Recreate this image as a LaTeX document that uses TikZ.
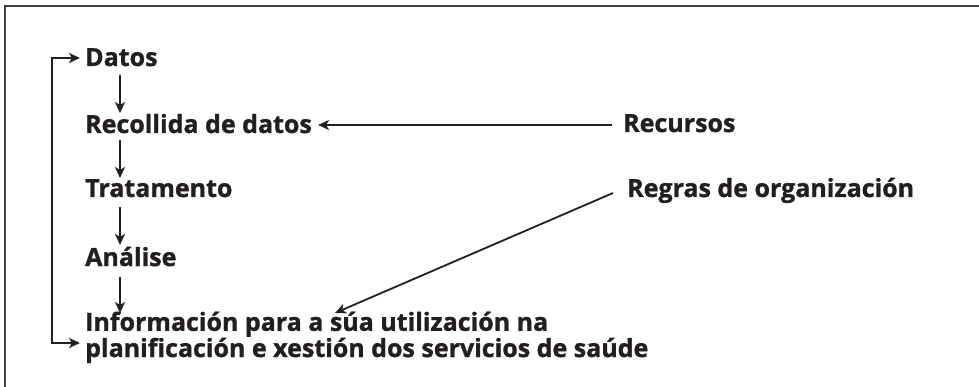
\documentclass[tikz,border=0pt]{standalone}
\usepackage{fontspec}
\setmainfont{Open Sans}[BoldFeatures={FakeBold=1.2}]
\usetikzlibrary{arrows.meta}
\definecolor{ink}{HTML}{231F20}
\begin{document}
\begin{tikzpicture}[x=1pt,y=-1pt,
  lbl/.style={anchor=base west,inner sep=0pt,font=\fontsize{25}{19}\selectfont\bfseries,text=ink},
  arr/.style={draw=ink,line width=1.8pt,-{Stealth[length=11pt,width=10pt,inset=3pt]}},
  frame/.style={draw=ink!85,line width=1.8pt}]
\useasboundingbox (0,0) rectangle (979,387);
\draw[frame] (5,387) -- (5,6) -- (979,6);
\node[lbl] (datos) at (85,66) {Datos};
\node[lbl] (recol) at (85,133) {Recollida de datos};
\node[lbl] (trat) at (85,197) {Tratamento};
\node[lbl] (anal) at (85,266) {Análise};
\node[lbl,align=left] (info) at (85,357) {Información para a súa utilización na\\planificación e xestión dos servicios de saúde};
\node[lbl] (recur) at (623,132) {Recursos};
\node[lbl] (regras) at (627,197) {Regras de organización};
\coordinate (loopx) at (52,0);
\coordinate (datosL) at ([xshift=-5pt,yshift=8pt]datos.base west);
\coordinate (infoL) at ([xshift=-5pt,yshift=14pt]info.base west);
\draw[arr] ([xshift=35pt,yshift=-9pt]datos.base west) -- ([xshift=35pt,yshift=20pt]recol.base west);
\draw[arr] ([xshift=35pt,yshift=-7pt]recol.base west) -- ([xshift=35pt,yshift=19pt]trat.base west);
\draw[arr] ([xshift=35pt,yshift=-10pt]trat.base west) -- ([xshift=35pt,yshift=21pt]anal.base west);
\draw[arr] ([xshift=35pt,yshift=-11pt]anal.base west) -- ([xshift=35pt,yshift=44pt]info.base west);
\draw[arr] ([xshift=-11pt,yshift=7pt]recur.base west) -- ([xshift=6pt,yshift=8pt]recol.base east);
\draw[arr] ([xshift=-14pt,yshift=4pt]regras.base west) -- ([xshift=250pt,yshift=44pt]info.base west);
\draw[arr,{Stealth[length=11pt,width=10pt,inset=3pt]}-{Stealth[length=11pt,width=10pt,inset=3pt]}] (datosL) -- (datosL -| loopx) |- (infoL);
\end{tikzpicture}
\end{document}
